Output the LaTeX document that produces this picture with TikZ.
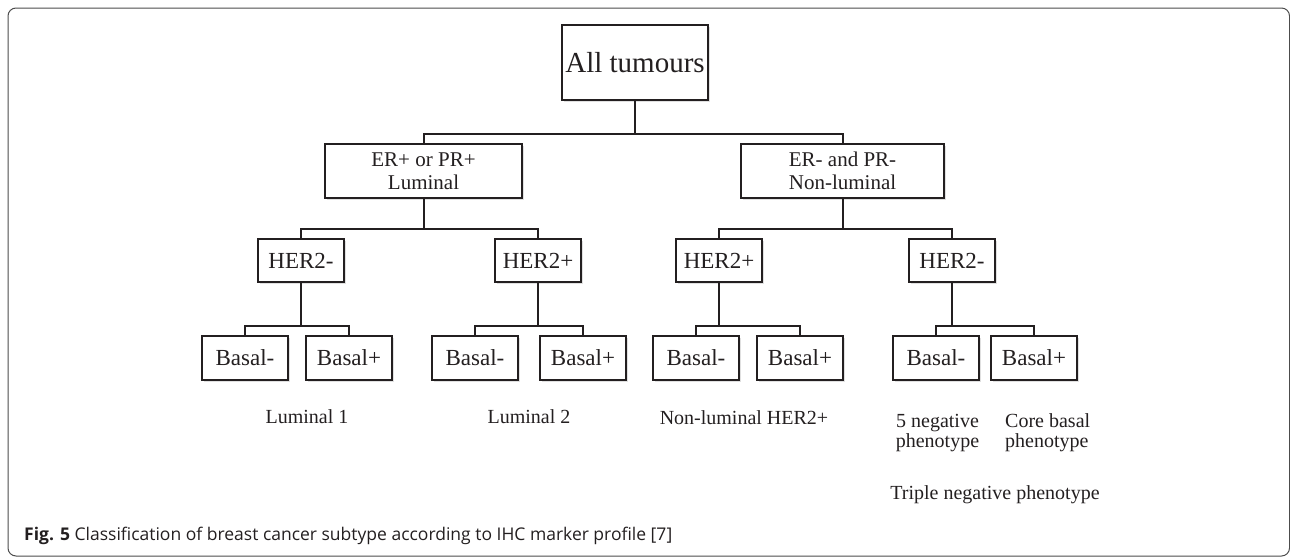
\documentclass[tikz,border=0pt]{standalone}
\usepackage{fontspec}
\setmainfont{Liberation Serif}
\newfontfamily\capfont{Open Sans}
\usetikzlibrary{shadows}
\definecolor{ink}{HTML}{231F20}
\tikzset{
box/.style={draw=ink,line width=2pt,fill=white,inner sep=0pt,align=center,text=ink,
  drop shadow={shadow xshift=1.5pt,shadow yshift=-2pt,fill=black,opacity=0.12}},
topbox/.style={box,minimum width=146pt,minimum height=75pt,font=\fontsize{29}{32}\selectfont},
erbox/.style={box,minimum height=54pt,font=\fontsize{21}{23}\selectfont},
markbox/.style={box,minimum width=86pt,minimum height=43.5pt,font=\fontsize{23}{26}\selectfont},
subtext/.style={align=center,text=ink,inner sep=0pt,font=\fontsize{20}{20}\selectfont},
elbow/.style={draw=ink,line width=2pt,
  to path={(\tikztostart.south) |- ([yshift=9pt]\tikztotarget.north) -- (\tikztotarget.north)}}
}
\begin{document}
\begin{tikzpicture}[x=1pt,y=-1pt]
\useasboundingbox (0,0) rectangle (1290,557);
\draw[draw=black!70,line width=1pt,rounded corners=8pt] (8,8) rectangle (1289.5,556);

% tree
\node[topbox] (all) at (635,62.5) {All tumours};
\node[erbox,minimum width=197pt] (erpos) at (423.5,171) {ER+ or PR+\\Luminal};
\node[erbox,minimum width=203pt] (erneg) at (842.5,171) {ER- and PR-\\Non-luminal};

\node[markbox] (hA) at (301,260.5) {HER2-};
\node[markbox] (hB) at (538,260.5) {HER2+};
\node[markbox] (hC) at (719,260.5) {HER2+};
\node[markbox] (hD) at (952,260.5) {HER2-};

\node[markbox] (bA1) at (245,358) {Basal-};
\node[markbox] (bA2) at (349,358) {Basal+};
\node[markbox] (bB1) at (475,358) {Basal-};
\node[markbox] (bB2) at (583,358) {Basal+};
\node[markbox] (bC1) at (696,358) {Basal-};
\node[markbox] (bC2) at (800,358) {Basal+};
\node[markbox] (bD1) at (936,358) {Basal-};
\node[markbox] (bD2) at (1034,358) {Basal+};

\draw[elbow]
  (all) to (erpos) (all) to (erneg)
  (erpos) to (hA) (erpos) to (hB)
  (erneg) to (hC) (erneg) to (hD)
  (hA) to (bA1) (hA) to (bA2)
  (hB) to (bB1) (hB) to (bB2)
  (hC) to (bC1) (hC) to (bC2)
  (hD) to (bD1) (hD) to (bD2);

% subtypes
\node[subtext] (lum1) at (307,417) {Luminal 1};
\node[subtext] (lum2) at (529,417) {Luminal 2};
\node[subtext] (nonlum) at (744,418) {Non-luminal HER2+};
\node[subtext] (fiveneg) at (937.5,433) {5 negative\\phenotype};
\node[subtext,align=left,anchor=west] (corebasal) at (1005,433) {Core basal\\phenotype};
\node[subtext] (triple) at (995,495) {Triple negative phenotype};

\node[anchor=base west,inner sep=0pt,text=ink,font=\capfont\fontsize{17.5}{20}\selectfont] (caption) at (24,540)
  {\textbf{Fig. 5} Classification of breast cancer subtype according to IHC marker profile [7]};
\end{tikzpicture}
\end{document}
